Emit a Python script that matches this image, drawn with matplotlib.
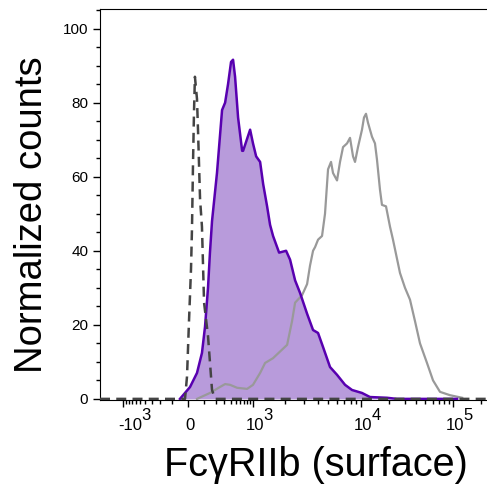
import numpy as np
import matplotlib.pyplot as plt
from matplotlib.ticker import FixedLocator, NullFormatter
from matplotlib.transforms import offset_copy

plt.rcParams['font.family'] = ['Liberation Sans', 'DejaVu Sans']

# FcgRIIb surface intensity (x) vs normalized counts (y)
stained_x = [-49, 12, 55, 88, 110, 133, 149, 167, 215, 273, 313, 356, 405, 441,
             480, 544, 643, 669, 890, 1000, 1070, 1165, 1244, 1353, 1442, 1537,
             1749, 2030, 2210, 2460, 2735, 3175, 3605, 4010, 4460, 5175, 6005,
             7120, 8265, 10250, 12525, 19170, 24600, 110500]
stained_y = [0, 3.2, 7, 12.4, 19.5, 30, 39.5, 48, 61, 78, 80, 85, 91, 91.6,
             87, 76, 67, 67, 72.7, 69, 65.5, 64, 58, 52, 47, 44,
             39.5, 40, 37.6, 32, 28.6, 23, 18.6, 17.8, 14, 8.6, 6.5,
             3.8, 2.4, 1.6, 0.5, 0.3, 0, 0]

other_x = [55, 149, 247, 313, 388, 522, 788, 1000, 1165, 1296, 1537, 2075,
           2305, 2460, 2853, 3175, 3380, 3605, 3765, 4010, 4365, 4650, 4960,
           5285, 5515, 6005, 6400, 6825, 7430, 7915, 8440, 8805, 9380, 10250,
           10780, 11330, 11910, 13170, 14190, 14920, 16080, 16900, 18700,
           20670, 22270, 26540, 30080, 34080, 38620, 43780, 52160, 60650,
           72230, 92700, 125200]
other_y = [0, 1.6, 3.2, 4, 3.8, 3, 2.7, 3.8, 7, 9.7, 11, 14.6,
           21, 26, 28, 31, 36, 40, 41, 43, 44, 50, 62,
           64, 61, 59, 64, 68, 69, 70.5, 65.5, 64, 68, 72.7,
           76, 77, 74.6, 70.8, 69, 64.6, 56.5, 52.4, 52,
           46.5, 43, 34, 30, 26.8, 21, 15, 9.7, 5,
           1.9, 1, 0.3]

iso_x = [-2500, -18, -6, 6, 18, 24, 30, 36, 42, 55, 62, 75, 88, 103, 133,
         167, 195, 230000]
iso_y = [0, 0, 6, 21, 35, 46, 63, 77, 87, 81, 72, 54, 46.5, 26, 17,
         2.4, 0, 0]

major_ticks = [-1000, 0, 1000, 10000, 100000]
major_base = ['-10', '0', '10', '10', '10']
major_exp = ['3', '', '3', '4', '5']

# biexponential-like display scale
W = 150.0
knot_vals = np.array([-2500, -1000, 0, 1000, 1e4, 1e5, 2.3e5])
knot_pos = np.array([100, 123, 188, 253, 361, 453, 487], dtype=float)
knot_a = np.arcsinh(knot_vals / W)


def fwd(x):
    return np.interp(np.arcsinh(np.asarray(x, dtype=float) / W), knot_a, knot_pos)


def inv(p):
    return W * np.sinh(np.interp(np.asarray(p, dtype=float), knot_pos, knot_a))


fig = plt.figure(figsize=(4.87, 4.92), dpi=100)
ax = fig.add_axes([100/487, 1 - 400/492, 387/487, 391/492])
ax.set_xscale('function', functions=(fwd, inv))

ax.fill_between(stained_x, stained_y, 0, color='#b89bdb', lw=0, zorder=1)
ax.plot(stained_x, stained_y, color='#5800b0', lw=1.8, zorder=3)
ax.plot(other_x, other_y, color='#999999', lw=1.6, zorder=2)
ax.plot(iso_x, iso_y, color='#444444', lw=1.8, dashes=(4, 2.5), zorder=4)

ax.set_xlim(-2500, 2.3e5)
ax.set_ylim(-0.3, 105.3)

ax.xaxis.set_major_locator(FixedLocator(major_ticks))
ax.xaxis.set_major_formatter(NullFormatter())
minors = ([-v for v in range(100, 1000, 100)] + list(range(100, 1000, 100))
          + list(range(2000, 10000, 1000)) + list(range(20000, 100000, 10000))
          + [200000])
ax.xaxis.set_minor_locator(FixedLocator(minors))
ax.xaxis.set_minor_formatter(NullFormatter())

# x tick labels: base plus a large raised exponent
xt = ax.get_xaxis_transform()
for val, base, ex in zip(major_ticks, major_base, major_exp):
    neg = base.startswith('-')
    dx = 7 if neg else 2
    t = offset_copy(xt, fig=fig, x=dx, y=-30, units='dots')
    ax.text(val, 0, base, transform=t, ha='center', va='baseline', fontsize=12)
    if ex:
        t2 = offset_copy(xt, fig=fig, x=dx + (16 if neg else 13),
                         y=-20, units='dots')
        ax.text(val, 0, ex, transform=t2, ha='center', va='baseline', fontsize=12)

ax.set_yticks(range(0, 101, 20))
ax.yaxis.set_minor_locator(FixedLocator(list(range(0, 106, 5))))

ax.tick_params(axis='both', which='major', length=5, width=1, labelsize=11)
ax.tick_params(axis='both', which='minor', length=3, width=1)

ax.spines['right'].set_visible(False)

fig.text(32/487, 1 - 215/492, 'Normalized counts', rotation=90,
         ha='center', va='center', fontsize=27.5)
fig.text(316/487, 1 - 465/492, 'Fc\u03b3RIIb (surface)',
         ha='center', va='center', fontsize=28.5)

fig.savefig('out.png', dpi=100)
